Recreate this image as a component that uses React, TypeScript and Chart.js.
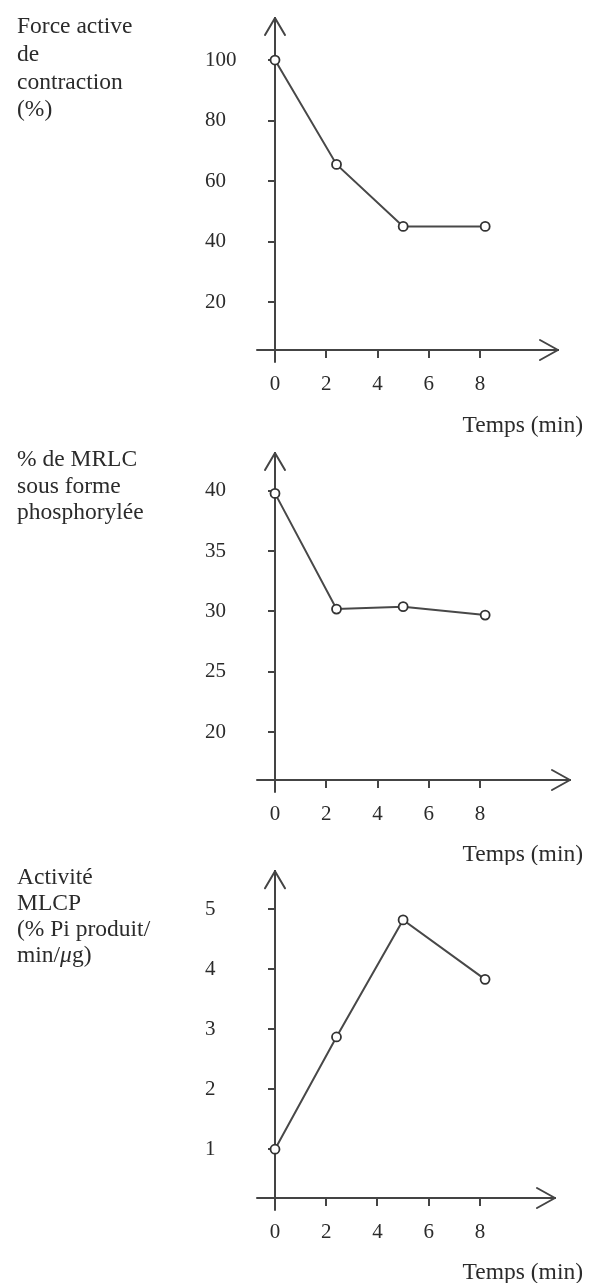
import React, { useEffect, useRef } from 'react';
import { Chart, registerables } from 'chart.js';

Chart.register(...registerables);

// ---- data ----
const TIMES = [0, 2.4, 5, 8.2];
const X_TICKS = [0, 2, 4, 6, 8];
const X_TITLE = 'Temps (min)';

const FORCE = [100, 65.5, 45, 45];
const FORCE_TICKS = [20, 40, 60, 80, 100];
const FORCE_TITLE = ['Force active', 'de', 'contraction', '(%)'];

const MRLC = [39.8, 30.2, 30.4, 29.7];
const MRLC_TICKS = [20, 25, 30, 35, 40];
const MRLC_TITLE = ['% de MRLC', 'sous forme', 'phosphorylée'];

const MLCP = [1.0, 2.87, 4.82, 3.83];
const MLCP_TICKS = [1, 2, 3, 4, 5];
const MLCP_TITLE = ['Activité', 'MLCP', '(% Pi produit/', 'min/μg)'];

// ---- styles ----
const FONT = 'Liberation Serif';
const TEXT_COLOR = '#2b2b2b';
const AXIS_COLOR = '#444';
const LINE_COLOR = '#484848';
const LABEL_SIZE = 23.5;

const PANELS = [
  {
    values: FORCE, yTicks: FORCE_TICKS, title: FORCE_TITLE,
    height: 440, padTop: 18, axisH: 90, padRight: 41,
    yMin: 4.13, yMax: 113.9, xMax: 11.04,
    titleBase: [33, 61, 89, 116], tempsY: 426,
  },
  {
    values: MRLC, yTicks: MRLC_TICKS, title: MRLC_TITLE,
    height: 425, padTop: 13, axisH: 85, padRight: 29,
    yMin: 16.02, yMax: 43.15, xMax: 11.51,
    titleBase: [26, 53, 79], tempsY: 415,
  },
  {
    values: MLCP, yTicks: MLCP_TICKS, title: MLCP_TITLE,
    height: 418, padTop: 5, axisH: 85, padRight: 44,
    yMin: 0.187, yMax: 5.63, xMax: 10.93,
    titleBase: [19, 45, 71, 97], tempsY: 408,
  },
];

function drawRich(ctx: CanvasRenderingContext2D, text: string, x: number, y: number, size: number) {
  const parts = text.split(/(μ)/);
  let cx = x;
  for (const part of parts) {
    if (!part) continue;
    ctx.font = `${part === 'μ' ? 'italic ' : ''}${size}px "${FONT}"`;
    ctx.fillText(part, cx, y);
    cx += ctx.measureText(part).width;
  }
}

const decor = {
  id: 'decor',
  afterDraw(chart: any, _args: any, opts: any) {
    const { ctx } = chart;
    const { left, right, top, bottom } = chart.chartArea;
    ctx.save();
    ctx.strokeStyle = AXIS_COLOR;
    ctx.lineWidth = 2;
    ctx.lineCap = 'round';
    ctx.lineJoin = 'round';
    ctx.beginPath();
    ctx.moveTo(left - 18, bottom);
    ctx.lineTo(left, bottom);
    ctx.moveTo(left, bottom);
    ctx.lineTo(left, bottom + 12);
    ctx.moveTo(left - 10, top + 17);
    ctx.lineTo(left, top);
    ctx.lineTo(left + 10, top + 17);
    ctx.moveTo(right - 18, bottom - 10);
    ctx.lineTo(right, bottom);
    ctx.lineTo(right - 18, bottom + 10);
    ctx.stroke();

    ctx.fillStyle = TEXT_COLOR;
    ctx.textAlign = 'left';
    ctx.textBaseline = 'alphabetic';
    (opts.title as string[]).forEach((line, i) => {
      drawRich(ctx, line, 17, opts.titleBase[i], LABEL_SIZE);
    });
    ctx.font = `${LABEL_SIZE}px "${FONT}"`;
    ctx.textAlign = 'right';
    ctx.textBaseline = 'middle';
    ctx.fillText(opts.xTitle, 583, opts.tempsY);
    ctx.restore();
  },
};

function Panel({ p }: { p: any }) {
  const ref = useRef<HTMLCanvasElement>(null);
  useEffect(() => {
    const tickFont = { family: FONT, size: 21 };
    const chart = new Chart(ref.current as HTMLCanvasElement, {
      type: 'line',
      data: {
        datasets: [
          {
            data: TIMES.map((t, i) => ({ x: t, y: p.values[i] })),
            borderColor: LINE_COLOR,
            borderWidth: 2,
            tension: 0,
            pointRadius: 4.5,
            pointBorderWidth: 1.8,
            pointBackgroundColor: '#fff',
            pointBorderColor: '#333',
            clip: false,
          } as any,
        ],
      },
      options: {
        responsive: false,
        maintainAspectRatio: false,
        animation: false,
        events: [],
        layout: { padding: { left: 205, right: p.padRight, top: p.padTop, bottom: 0 } },
        plugins: {
          legend: { display: false },
          tooltip: { enabled: false },
          title: { display: false },
          decor: { title: p.title, titleBase: p.titleBase, tempsY: p.tempsY, xTitle: X_TITLE },
        } as any,
        scales: {
          x: {
            type: 'linear',
            min: 0,
            max: p.xMax,
            afterBuildTicks: (s: any) => { s.ticks = X_TICKS.map((v) => ({ value: v })); },
            afterFit: (s: any) => {
              s.height = p.axisH;
              s.paddingLeft = 0;
              s.paddingRight = 0;
            },
            grid: { display: true, drawOnChartArea: false, drawTicks: true, tickLength: 8, color: AXIS_COLOR, lineWidth: 2 },
            border: { display: true, color: AXIS_COLOR, width: 2 },
            ticks: { font: tickFont, color: TEXT_COLOR, padding: 14, maxRotation: 0, autoSkip: false },
          },
          y: {
            type: 'linear',
            min: p.yMin,
            max: p.yMax,
            afterBuildTicks: (s: any) => { s.ticks = p.yTicks.map((v: number) => ({ value: v })); },
            afterFit: (s: any) => {
              s.width = 70;
              s.paddingTop = 0;
              s.paddingBottom = 0;
            },
            grid: { display: true, drawOnChartArea: false, drawTicks: true, tickLength: 7, color: AXIS_COLOR, lineWidth: 2 },
            border: { display: true, color: AXIS_COLOR, width: 2 },
            ticks: { font: tickFont, color: TEXT_COLOR, crossAlign: 'far', padding: 10, autoSkip: false },
          },
        },
      } as any,
      plugins: [decor as any],
    });
    return () => chart.destroy();
  }, []);
  return (
    <canvas
      ref={ref}
      width={599}
      height={p.height}
      style={{ display: 'block', width: 599, height: p.height }}
    />
  );
}

export default function App() {
  return (
    <div style={{ position: 'absolute', left: 0, top: 0, width: 599, height: 1283, background: '#fff' }}>
      {PANELS.map((p, i) => (
        <Panel key={i} p={p} />
      ))}
    </div>
  );
}
